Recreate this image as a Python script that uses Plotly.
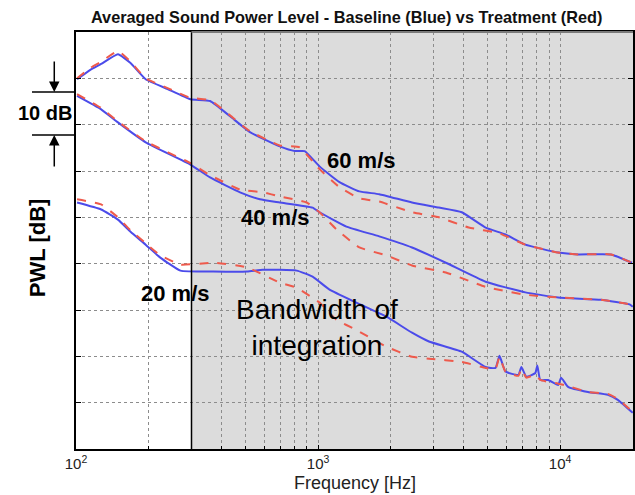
import plotly.graph_objects as go

# ---- data (frequency in Hz, PWL in dB, relative scale) ----
f60_base = [101, 115, 127, 149, 168, 194, 239, 297, 358, 433, 523, 695, 801, 880, 1014, 1226, 1481, 1789,
            2444, 3155, 3922, 4920, 5944, 7183, 9813, 11857, 16196, 19800]
db60_base = [79.8, 81.9, 83.1, 85.2, 83.3, 79.8, 77.7, 75.5, 75.1, 71.8, 68.4, 65.3, 64.3, 64.3, 61.0, 57.6, 55.6, 55.0,
             53.2, 52.1, 51.1, 47.8, 46.3, 44.1, 42.4, 42.0, 42.0, 40.2]
f60_treat = [101, 115, 127, 149, 168, 194, 239, 297, 358, 433, 523, 695, 839, 1014, 1226, 1481, 1789, 2444,
             3155, 4191, 5565, 7183, 9813, 11857, 16196, 19800]
db60_treat = [80.0, 82.3, 83.6, 85.9, 83.6, 80.0, 77.9, 75.8, 75.3, 72.0, 68.6, 65.5, 65.1, 60.4, 56.5, 54.1, 53.4, 51.1,
              50.0, 47.8, 46.6, 44.1, 42.4, 42.0, 42.0, 40.2]

f40_base = [101, 127, 149, 194, 297, 358, 476, 575, 695, 949, 1014, 1309, 1789, 2444, 3371, 4920, 7183, 9813,
            14738, 19383, 19946]
db40_base = [76.2, 73.3, 70.5, 66.2, 61.4, 58.6, 55.4, 53.9, 53.2, 52.1, 51.1, 48.0, 45.9, 43.5, 40.2, 36.1, 33.8, 32.7,
             32.2, 31.2, 30.7]
f40_treat = [101, 127, 149, 194, 297, 358, 476, 592, 695, 897, 1014, 1191, 1481, 1911, 2444, 3371, 4920, 7183,
             9813, 14738, 19383, 19946]
db40_treat = [76.6, 73.6, 70.7, 66.4, 61.7, 59.1, 56.0, 55.4, 54.5, 53.2, 51.1, 47.4, 43.5, 41.8, 39.6, 38.1, 35.0, 33.3,
              32.7, 32.2, 31.2, 30.7]

f20_base = [101, 127, 149, 168, 194, 223, 270, 369, 509, 592, 816, 949, 1115, 1439, 1911, 2444, 2871, 3922,
            4920, 5409, 5617, 5944, 6722, 6917, 7252, 7898, 8048, 8278, 8928, 9813, 10095, 10786, 13032, 15743,
            17306, 19946]
db20_base = [53.2, 51.7, 49.5, 46.9, 44.1, 41.3, 38.5, 38.3, 38.3, 38.7, 38.5, 37.2, 34.4, 31.6, 28.6, 25.1, 23.2, 21.0,
             17.7, 17.5, 20.1, 16.7, 16.0, 17.7, 15.6, 16.4, 18.0, 14.9, 14.9, 13.8, 15.4, 13.4, 12.3, 11.7,
             10.6, 7.8]
f20_treat = [101, 127, 149, 168, 194, 223, 270, 369, 509, 695, 816, 1014, 1191, 1439, 1911, 2444, 2871, 3922,
             4920, 5409, 5617, 5944, 6722, 6917, 7252, 7898, 8278, 9813, 10786, 13032, 15743, 17306, 19946]
db20_treat = [53.9, 52.8, 50.0, 47.2, 44.4, 41.8, 39.8, 40.2, 39.2, 35.9, 34.8, 31.6, 27.9, 25.7, 22.1, 19.9, 19.5, 18.8,
              17.5, 17.3, 19.9, 16.7, 15.8, 17.3, 15.4, 16.0, 14.9, 14.1, 13.6, 12.3, 11.9, 10.8, 8.0]

x_tick_vals = [100, 1000, 10000]
x_tick_text = ["10<sup>2</sup>", "10<sup>3</sup>", "10<sup>4</sup>"]
x_minor_vals = [200, 300, 400, 500, 600, 700, 800, 900, 2000, 3000, 4000, 5000, 6000, 7000, 8000, 9000]
band_start = 300      # Hz, start of integration band
band_end = 20000

BLUE = "#4b4bea"
RED = "#ee5a4c"
FONT = "Liberation Sans, Arial, sans-serif"

fig = go.Figure()
for f, d in [(f60_base, db60_base), (f40_base, db40_base), (f20_base, db20_base)]:
    fig.add_trace(go.Scatter(x=f, y=d, mode="lines", line=dict(color=BLUE, width=2, shape="spline", smoothing=0.4),
                             hoverinfo="skip"))
for f, d in [(f60_treat, db60_treat), (f40_treat, db40_treat), (f20_treat, db20_treat)]:
    fig.add_trace(go.Scatter(x=f, y=d, mode="lines",
                             line=dict(color=RED, width=2, dash="dash", shape="spline", smoothing=0.4),
                             hoverinfo="skip"))

# shaded integration band
fig.add_shape(type="rect", xref="x", yref="paper", x0=band_start, x1=band_end, y0=0, y1=1,
              fillcolor="#dcdcdc", line=dict(width=0), layer="below")
fig.add_shape(type="line", xref="x", yref="paper", x0=band_start, x1=band_start, y0=0, y1=1,
              line=dict(color="black", width=1.5))
fig.add_shape(type="line", xref="x", yref="paper", x0=band_start, x1=band_end, y0=1, y1=1,
              line=dict(color="#7a7a7a", width=2))

# 10 dB marker
fig.add_shape(type="line", xref="paper", yref="paper", x0=-0.079, x1=0, y0=0.856, y1=0.856,
              line=dict(color="black", width=1.5))
fig.add_shape(type="line", xref="paper", yref="paper", x0=-0.079, x1=0, y0=0.753, y1=0.753,
              line=dict(color="black", width=1.5))
fig.add_annotation(xref="paper", yref="paper", x=-0.039, y=0.856, ax=0, ay=-32, text="",
                   showarrow=True, arrowhead=2, arrowsize=1.4, arrowwidth=1.5, arrowcolor="black")
fig.add_annotation(xref="paper", yref="paper", x=-0.039, y=0.753, ax=0, ay=33, text="",
                   showarrow=True, arrowhead=2, arrowsize=1.4, arrowwidth=1.5, arrowcolor="black")
fig.add_annotation(xref="paper", yref="paper", x=-0.055, y=0.806, xanchor="center", yanchor="middle",
                   text="<b>10 dB</b>", showarrow=False,
                   font=dict(size=20, color="black", family=FONT))

labels = [("<b>60 m/s</b>", 0.512, 0.727), ("<b>40 m/s</b>", 0.293, 0.556), ("<b>20 m/s</b>", 0.114, 0.374)]
for t, x, y in labels:
    fig.add_annotation(xref="paper", yref="paper", x=x, y=y, text=t, showarrow=False,
                       font=dict(size=22, color="black", family=FONT))
fig.add_annotation(xref="paper", yref="paper", x=0.433, y=0.206, text="Bandwidth of<br>integration",
                   showarrow=False, font=dict(size=28, color="black", family=FONT))

fig.add_annotation(xref="paper", yref="paper", x=-0.095, y=0.483, text="<b>PWL [dB]</b>", textangle=-90,
                   showarrow=False, font=dict(size=22, color="black", family=FONT))
fig.add_annotation(xref="paper", yref="paper", x=0.501, y=-0.110, yanchor="bottom", text="Frequency [Hz]",
                   showarrow=False, font=dict(size=18, color="#222", family=FONT))

grid = dict(gridcolor="#8c8c8c", griddash="dot", gridwidth=1)
fig.update_layout(
    width=635, height=495,
    margin=dict(l=76, r=0, t=32, b=46),
    paper_bgcolor="white", plot_bgcolor="white",
    showlegend=False,
    title=dict(text="<b>Averaged Sound Power Level - Baseline (Blue) vs Treatment (Red)</b>",
               x=0.546, xanchor="center", y=0.966, yanchor="middle",
               font=dict(size=16.3, color="#111", family=FONT)),
    xaxis=dict(type="log", range=[2, 4.301], tickvals=x_tick_vals, ticktext=x_tick_text,
               showline=True, linecolor="black", linewidth=2, mirror=True,
               ticks="inside", ticklen=4, tickcolor="black",
               tickfont=dict(size=15, color="#222", family=FONT),
               showgrid=True, **grid, zeroline=False,
               minor=dict(tickvals=x_minor_vals, showgrid=True, gridcolor="#8c8c8c", griddash="dot",
                          ticks="inside", ticklen=3, tickcolor="black")),
    yaxis=dict(range=[0, 90], dtick=10, showticklabels=False,
               showline=True, linecolor="black", linewidth=2, mirror="ticks",
               ticks="inside", ticklen=5, tickcolor="black",
               showgrid=True, **grid, zeroline=False),
)

fig.write_html("out.html", config={"displayModeBar": False},
               post_script="document.body.style.margin='0';document.body.style.overflow='hidden';")
